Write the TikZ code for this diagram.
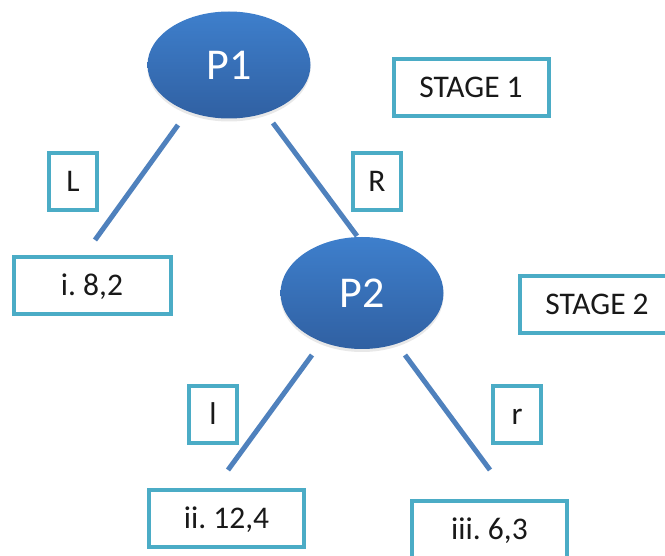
\documentclass[tikz,border=0pt]{standalone}
\usepackage{fontspec}
\setmainfont{Carlito}
\frenchspacing
\usetikzlibrary{shapes.geometric,shadows}
\definecolor{edgeblue}{RGB}{79,129,189}
\definecolor{boxaqua}{RGB}{75,172,198}
\definecolor{playtop}{RGB}{62,127,204}
\definecolor{playbot}{RGB}{48,96,162}
\definecolor{labeltext}{RGB}{25,25,25}
\tikzset{
  player/.style={ellipse, inner sep=0pt, draw=none,
    top color=playtop, bottom color=playbot,
    drop shadow={shadow xshift=0pt, shadow yshift=-3pt, opacity=0.18},
    text=white, font=\fontsize{44}{48}\selectfont},
  labelbox/.style={rectangle, draw=boxaqua, line width=4pt, fill=white,
    inner sep=0pt, minimum height=57pt, text=labeltext,
    text height=20pt, text depth=0pt, font=\fontsize{31.5}{36}\selectfont},
  widebox/.style={labelbox, minimum width=155pt},
  smallbox/.style={labelbox, minimum width=48pt},
  edgeline/.style={draw=edgeblue, line width=5pt, line cap=butt}
}
\begin{document}
\begin{tikzpicture}[x=1pt, y=-1pt]
\useasboundingbox (0,0) rectangle (665,556);
\fill[white] (0,0) rectangle (665,556);
\clip (0,0) rectangle (665,556);

% players
\node[player, minimum width=163pt, minimum height=107pt] (P1) at (229,65) {P1};
\node[player, minimum width=163pt, minimum height=112pt] (P2) at (362,293) {P2};

% stage labels
\node[widebox] (S1) at (471,87.5) {STAGE 1};
\node[widebox] (S2) at (597,305) {STAGE 2};

% action labels
\node[smallbox] (aL) at (73,182) {L};
\node[smallbox] (aR) at (377,182) {R};
\node[smallbox] (al) at (213,414.5) {l};
\node[smallbox] (ar) at (517,414.5) {r};

% payoffs
\node[widebox, minimum width=157pt] (o1) at (92,286) {i.~8,2};
\node[widebox] (o2) at (226.5,518.5) {ii.~12,4};
\node[widebox] (o3) at (489.5,529.5) {iii.~6,3};

% branch end points
\coordinate (Ltop) at (178,125);
\coordinate (Lbot) at (95,240);
\coordinate (Rtop) at (273,123);
\coordinate (Rbot) at (357,236);
\coordinate (ltop) at (312,355);
\coordinate (lbot) at (228,470);
\coordinate (rtop) at (405,355);
\coordinate (rbot) at (490,470);

\draw[edgeline] (Ltop) -- (Lbot);
\draw[edgeline] (Rtop) -- (Rbot);
\draw[edgeline] (ltop) -- (lbot);
\draw[edgeline] (rtop) -- (rbot);
\end{tikzpicture}
\end{document}
